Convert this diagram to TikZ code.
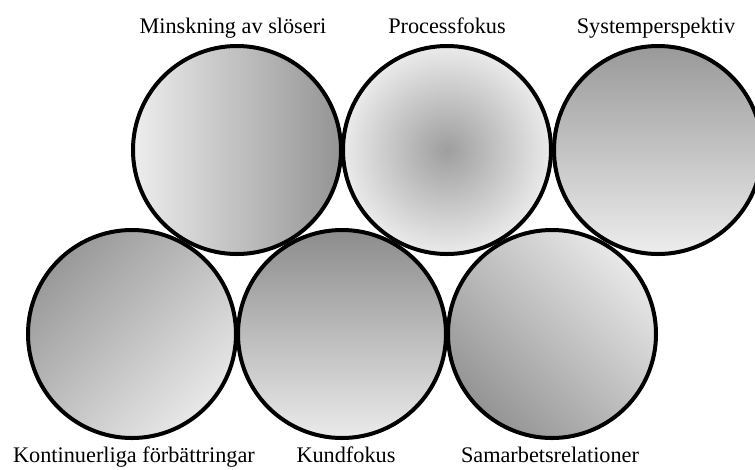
\documentclass[tikz,border=0pt]{standalone}
\usepackage{fontspec}
\setmainfont{Liberation Serif}
\begin{document}
\begin{tikzpicture}[x=0.03cm, y=-0.03cm, font=\fontsize{19}{22}\selectfont,
  bub/.style={circle,draw=black,line width=0.12cm,minimum size=6.24cm,inner sep=0pt},
  lab/.style={anchor=base,inner sep=0pt}]
\useasboundingbox (0,0) rectangle (755,469);
% top row
\node[bub,left color=black!7,right color=black!42] (slo) at (237,150) {};
\node[bub,inner color=black!38,outer color=black!8] (proc) at (447,150) {};
\node[bub,top color=black!40,bottom color=black!7] (sys) at (658,150) {};
% bottom row
\node[bub,top color=black!40,bottom color=black!9,shading angle=45] (kont) at (132,334) {};
\node[bub,top color=black!45,bottom color=black!8] (kund) at (342,334) {};
\node[bub,top color=black!9,bottom color=black!42,shading angle=-45] (sam) at (552,334) {};
% labels
\node[lab] (tslo) at (233,33) {Minskning av slöseri};
\node[lab] (tproc) at (447,33) {Processfokus};
\node[lab] (tsys) at (656,33) {Systemperspektiv};
\node[lab] (tkont) at (134,462) {Kontinuerliga förbättringar};
\node[lab] (tkund) at (346,462) {Kundfokus};
\node[lab] (tsam) at (550,462) {Samarbetsrelationer};
\end{tikzpicture}
\end{document}
